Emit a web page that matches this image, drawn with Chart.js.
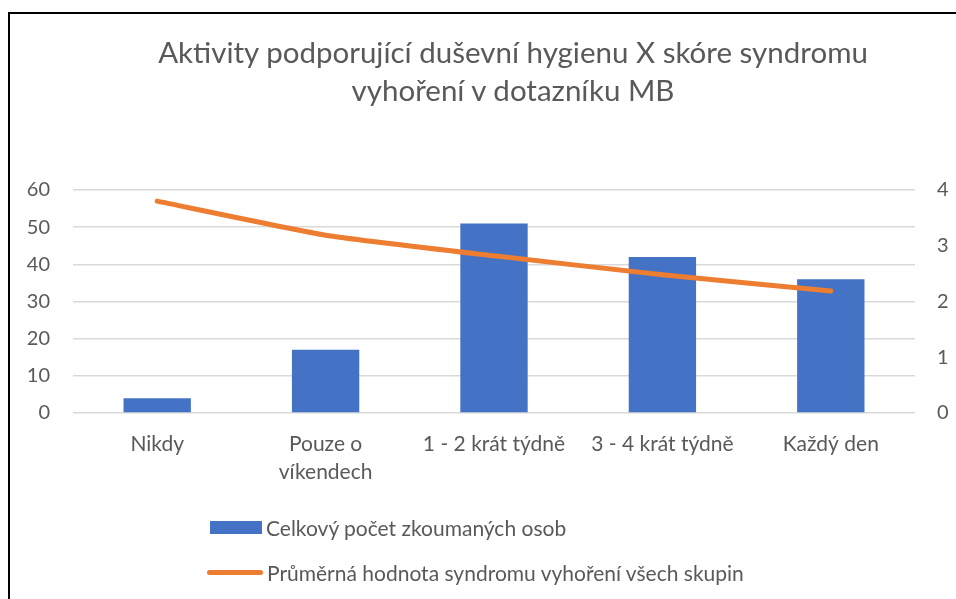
<!DOCTYPE html>
<html>
<head>
<meta charset="utf-8">
<script src="https://cdn.jsdelivr.net/npm/chart.js@4"></script>
<style>
  body { margin: 0; background: #fff; }
  #wrap { position: relative; width: 956px; height: 599px; overflow: hidden; }
  #frame { position: absolute; left: 8px; top: 12px; width: 1000px; height: 700px;
           border-left: 2px solid #000; border-top: 2px solid #000; }
  #chart { position: absolute; left: 0; top: 0; }
  #title { position: absolute; left: 0; top: 33px; width: 1026px; text-align: center;
           font-family: Lato, sans-serif; font-size: 29.5px; line-height: 38px; color: #595959; }
  .legend { position: absolute; left: 207px; height: 30px; display: flex; align-items: center;
            font-family: Lato, sans-serif; font-size: 21px; color: #595959; white-space: nowrap; }
  .legend .txt { margin-left: 4px; }
</style>
</head>
<body>
<div id="wrap">
  <div id="frame"></div>
  <canvas id="chart" width="956" height="599"></canvas>
  <div id="title"></div>
  <div class="legend" style="top:512px"><span style="display:inline-block;width:52px;height:13px;margin-left:3px;background:#4472C4"></span><span class="txt" id="lt1"></span></div>
  <div class="legend" style="top:557px"><span style="display:inline-block;width:56px;height:5px;border-radius:3px;background:#ED7D31"></span><span class="txt" id="lt2"></span></div>
</div>
<script>
// kategorie a hodnoty
const categories = ["Nikdy", ["Pouze o", "víkendech"], "1 - 2 krát týdně", "3 - 4 krát týdně", "Každý den"];
const countValues = [4, 17, 51, 42, 36];
const burnoutValues = [3.8, 3.19, 2.82, 2.48, 2.19];
const countLabel = "Celkový počet zkoumaných osob";
const burnoutLabel = "Průměrná hodnota syndromu vyhoření všech skupin";
const titleLines = ["Aktivity podporující duševní hygienu X skóre syndromu", "vyhoření v dotazníku MB"];
const leftTicks = [0, 10, 20, 30, 40, 50, 60];
const rightTicks = [0, 1, 2, 3, 4];

const textColor = "#595959";
const font = "Lato, sans-serif";

// titulek a legenda jako text
const titleEl = document.getElementById("title");
titleLines.forEach((line, i) => {
  if (i > 0) titleEl.appendChild(document.createElement("br"));
  titleEl.appendChild(document.createTextNode(line));
});
document.getElementById("lt1").textContent = countLabel;
document.getElementById("lt2").textContent = burnoutLabel;

const ctx = document.getElementById("chart").getContext("2d");
new Chart(ctx, {
  type: "bar",
  data: {
    labels: categories,
    datasets: [
      {
        type: "line",
        label: burnoutLabel,
        data: burnoutValues,
        yAxisID: "y2",
        borderColor: "#ED7D31",
        borderWidth: 5,
        borderCapStyle: "round",
        pointRadius: 0,
        tension: 0.15,
        order: 0
      },
      {
        label: countLabel,
        data: countValues,
        yAxisID: "y",
        backgroundColor: "#4472C4",
        barPercentage: 0.4,
        categoryPercentage: 1,
        order: 1
      }
    ]
  },
  options: {
    responsive: false,
    animation: false,
    layout: { padding: { top: 190, left: 0, right: 0, bottom: 0 } },
    plugins: {
      legend: { display: false },
      tooltip: { enabled: false },
      title: { display: false }
    },
    scales: {
      x: {
        grid: { display: false, drawTicks: false },
        border: { display: false },
        ticks: { color: textColor, font: { family: font, size: 21, lineHeight: 1.3 }, maxRotation: 0, autoSkip: false, padding: 18 },
        afterFit: (axis) => { axis.height = 186; }
      },
      y: {
        position: "left",
        min: 0, max: 60,
        afterBuildTicks: (axis) => { axis.ticks = leftTicks.map(v => ({ value: v })); },
        grid: { color: "#D9D9D9", lineWidth: 1.5, drawTicks: false },
        border: { display: false },
        ticks: { color: textColor, font: { family: font, size: 20 }, padding: 23 },
        afterFit: (axis) => { axis.width = 73; }
      },
      y2: {
        position: "right",
        min: 0, max: 4,
        afterBuildTicks: (axis) => { axis.ticks = rightTicks.map(v => ({ value: v })); },
        grid: { display: false, drawTicks: false },
        border: { display: false },
        ticks: { color: textColor, font: { family: font, size: 20 }, padding: 22 },
        afterFit: (axis) => { axis.width = 41; }
      }
    }
  }
});
</script>
</body>
</html>
